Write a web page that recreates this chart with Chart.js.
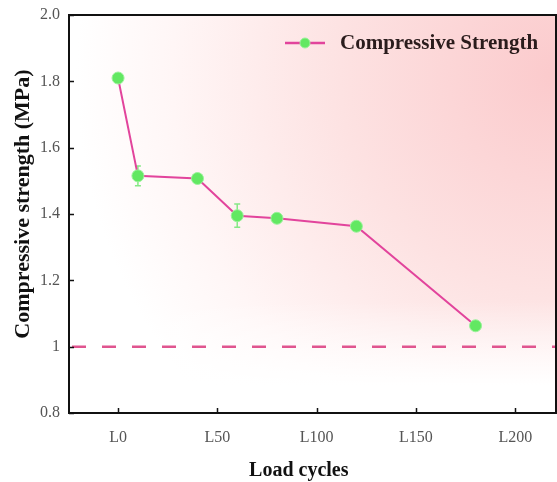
<!DOCTYPE html>
<html>
<head>
<meta charset="utf-8">
<script src="https://cdn.jsdelivr.net/npm/chart.js@4.4.1/dist/chart.umd.min.js"></script>
<style>
html,body{margin:0;padding:0;background:#fff;overflow:hidden;}
#wrap{width:563px;height:482px;position:relative;}
</style>
</head>
<body>
<div id="wrap"><canvas id="c"></canvas></div>
<script>
// ---- data ----
const loadCycles = [0, 10, 40, 60, 80, 120, 180];
const strength   = [1.81, 1.515, 1.507, 1.395, 1.387, 1.363, 1.063];
const strengthErr= [0.01, 0.03, 0.01, 0.035, 0.01, 0.012, 0.01];
const xTickValues = [0, 50, 100, 150, 200];
const xTickLabels = ['L0', 'L50', 'L100', 'L150', 'L200'];
const yTickValues = [0.8, 1.0, 1.2, 1.4, 1.6, 1.8, 2.0];
const yTickLabels = ['0.8', '1', '1.2', '1.4', '1.6', '1.8', '2.0'];
const refLineValue = 1.0;
const seriesName = 'Compressive Strength';
const xTitle = 'Load cycles';
const yTitle = 'Compressive strength (MPa)';

const LINE_COLOR = '#e2449c';
const MARK_FILL = '#62e862';
const MARK_EDGE = '#9af29a';
const SERIF = '"Liberation Serif", "Times New Roman", serif';

const points = loadCycles.map((x, i) => ({x: x, y: strength[i]}));

const bgPlugin = {
  id: 'bg',
  beforeDraw(chart) {
    const {ctx, chartArea: a} = chart;
    ctx.save();
    ctx.fillStyle = '#fff';
    ctx.fillRect(0, 0, chart.width, chart.height);
    const w = a.right - a.left, h = a.bottom - a.top;
    const g = ctx.createRadialGradient(a.right, a.top + 60, 0, a.right, a.top + 60, 480);
    g.addColorStop(0, 'rgba(251,202,204,1)');
    g.addColorStop(0.45, 'rgba(253,226,226,1)');
    g.addColorStop(0.8, 'rgba(255,246,246,1)');
    g.addColorStop(1, 'rgba(255,255,255,1)');
    ctx.fillStyle = g;
    ctx.fillRect(a.left, a.top, w, h);
    const v = ctx.createLinearGradient(0, a.top + h * 0.72, 0, a.top + h * 0.93);
    v.addColorStop(0, 'rgba(255,255,255,0)');
    v.addColorStop(1, 'rgba(255,255,255,1)');
    ctx.fillStyle = v;
    ctx.fillRect(a.left, a.top, w, h);
    ctx.restore();
  },
  beforeDatasetsDraw(chart) {
    const {ctx} = chart;
    const xs = chart.scales.x, ys = chart.scales.y;
    ctx.save();
    ctx.strokeStyle = '#86e886';
    ctx.lineWidth = 1.5;
    loadCycles.forEach((xv, i) => {
      const px = xs.getPixelForValue(xv);
      const top = ys.getPixelForValue(strength[i] + strengthErr[i]);
      const bot = ys.getPixelForValue(strength[i] - strengthErr[i]);
      ctx.beginPath();
      ctx.moveTo(px, top); ctx.lineTo(px, bot);
      ctx.moveTo(px - 3, top); ctx.lineTo(px + 3, top);
      ctx.moveTo(px - 3, bot); ctx.lineTo(px + 3, bot);
      ctx.stroke();
    });
    ctx.restore();
  },
  afterDraw(chart) {
    const {ctx, chartArea: a} = chart;
    const xs = chart.scales.x, ys = chart.scales.y;
    ctx.save();
    // top & right frame
    ctx.strokeStyle = '#111';
    ctx.lineWidth = 2;
    ctx.beginPath();
    ctx.moveTo(a.left, a.top); ctx.lineTo(a.right, a.top);
    ctx.lineTo(a.right, a.bottom);
    ctx.stroke();
    // inward ticks
    ctx.lineWidth = 1.5;
    ctx.beginPath();
    xTickValues.forEach(v => {
      const px = Math.round(xs.getPixelForValue(v)) + 0.5;
      ctx.moveTo(px, a.bottom); ctx.lineTo(px, a.bottom - 5);
    });
    yTickValues.forEach(v => {
      const py = Math.round(ys.getPixelForValue(v)) + 0.5;
      ctx.moveTo(a.left, py); ctx.lineTo(a.left + 5, py);
    });
    ctx.stroke();
    // axis titles
    ctx.fillStyle = '#111';
    ctx.font = 'bold 20px ' + SERIF;
    ctx.textAlign = 'center';
    ctx.textBaseline = 'alphabetic';
    ctx.fillText(xTitle, xs.getPixelForValue(91), 476);
    ctx.save();
    ctx.translate(29, ys.getPixelForValue(1.43));
    ctx.rotate(-Math.PI / 2);
    ctx.font = 'bold 22px ' + SERIF;
    ctx.fillText(yTitle, 0, 0);
    ctx.restore();
    // legend
    const ly = a.top + 28;
    const lx0 = a.right - 271, lx1 = a.right - 231;
    ctx.strokeStyle = LINE_COLOR;
    ctx.lineWidth = 2.5;
    ctx.beginPath(); ctx.moveTo(lx0, ly); ctx.lineTo(lx1, ly); ctx.stroke();
    ctx.fillStyle = MARK_FILL;
    ctx.strokeStyle = MARK_EDGE;
    ctx.lineWidth = 1;
    ctx.beginPath(); ctx.arc((lx0 + lx1) / 2, ly, 5, 0, Math.PI * 2); ctx.fill(); ctx.stroke();
    ctx.fillStyle = '#2a1c1c';
    ctx.font = 'bold 21px ' + SERIF;
    ctx.textBaseline = 'middle';
    ctx.textAlign = 'left';
    ctx.fillText(seriesName, a.right - 216, ly + 1);
    ctx.restore();
  }
};

new Chart(document.getElementById('c'), {
  type: 'scatter',
  data: {
    datasets: [
      {
        label: 'ref',
        data: [{x: -24.7, y: refLineValue}, {x: 220.5, y: refLineValue}],
        showLine: true,
        borderColor: '#e0558f',
        borderWidth: 2.5,
        borderDash: [14, 16],
        borderDashOffset: -3,
        pointRadius: 0,
        pointHoverRadius: 0,
        order: 2
      },
      {
        label: seriesName,
        data: points,
        showLine: true,
        borderColor: LINE_COLOR,
        borderWidth: 2,
        pointRadius: 6,
        pointBackgroundColor: MARK_FILL,
        pointBorderColor: MARK_EDGE,
        pointBorderWidth: 1,
        order: 1
      }
    ]
  },
  options: {
    responsive: true,
    maintainAspectRatio: false,
    animation: false,
    events: [],
    layout: {padding: {left: 0, top: 15, right: 0, bottom: 0}},
    plugins: {legend: {display: false}, tooltip: {enabled: false}},
    scales: {
      x: {
        type: 'linear',
        min: -24.7,
        max: 220.5,
        afterFit(s) { s.height = 69; s.paddingRight = 0; s.paddingLeft = 0; },
        afterBuildTicks(s) { s.ticks = xTickValues.map(v => ({value: v})); },
        grid: {display: true, color: 'rgba(0,0,0,0)', drawTicks: false},
        border: {display: true, color: '#111', width: 2},
        ticks: {
          padding: 15,
          color: '#555',
          font: {family: SERIF, size: 16},
          callback(v) { const i = xTickValues.indexOf(v); return i >= 0 ? xTickLabels[i] : ''; }
        },
        title: {display: false}
      },
      y: {
        type: 'linear',
        min: 0.8,
        max: 2.0,
        afterFit(s) { s.width = 69; s.paddingTop = 0; s.paddingBottom = 0; },
        afterBuildTicks(s) { s.ticks = yTickValues.map(v => ({value: v})); },
        grid: {display: true, color: 'rgba(0,0,0,0)', drawTicks: false},
        border: {display: true, color: '#111', width: 2},
        ticks: {
          padding: 9,
          color: '#555',
          font: {family: SERIF, size: 16},
          callback(v) {
            const i = yTickValues.findIndex(t => Math.abs(t - v) < 1e-6);
            return i >= 0 ? yTickLabels[i] : '';
          }
        },
        title: {display: false}
      }
    }
  },
  plugins: [bgPlugin]
});
</script>
</body>
</html>
